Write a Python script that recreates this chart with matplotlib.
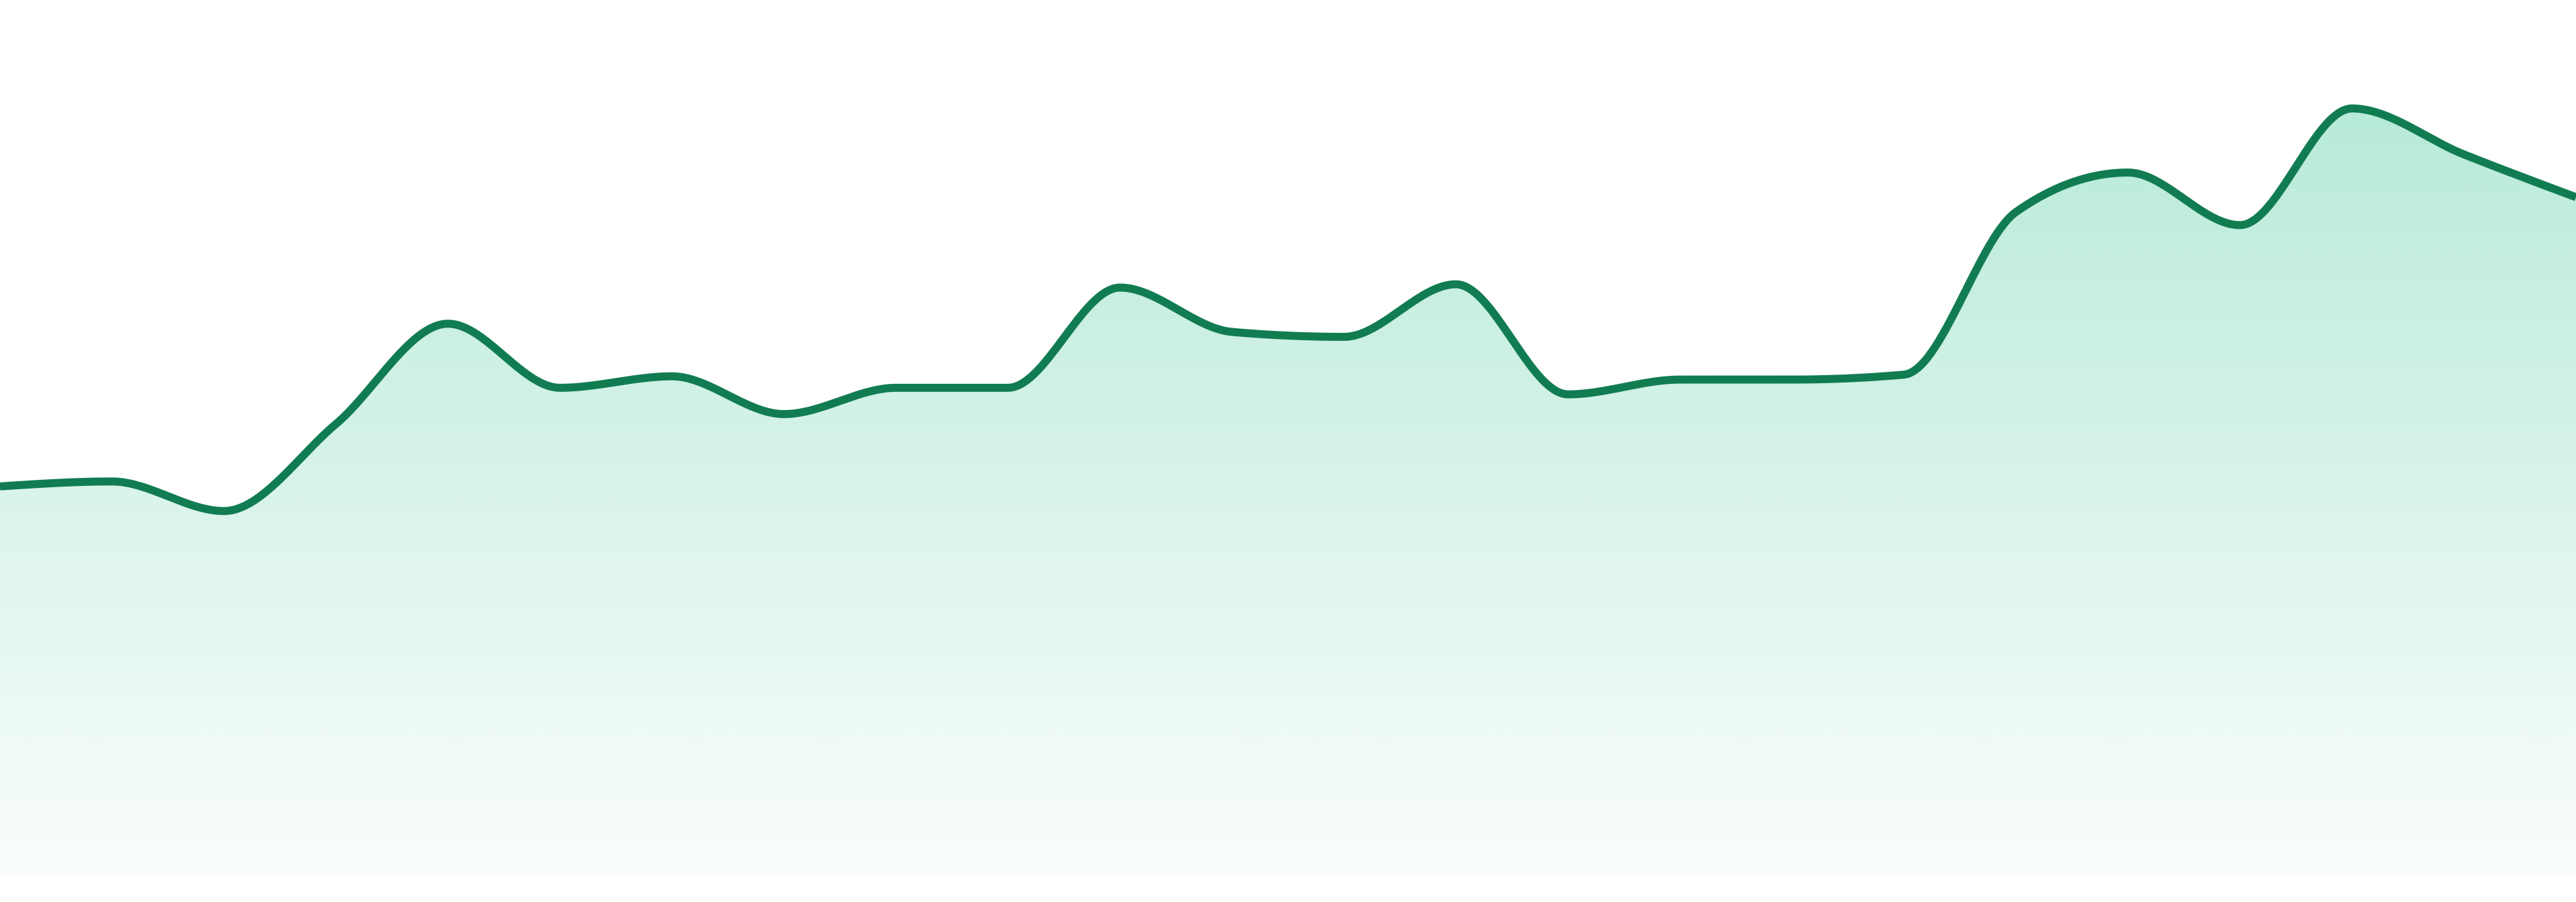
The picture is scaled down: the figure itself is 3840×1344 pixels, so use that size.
import numpy as np
import matplotlib
matplotlib.use("Agg")
import matplotlib.pyplot as plt
from matplotlib.patches import PathPatch
from matplotlib.path import Path

# Data (arbitrary units)
idx = list(range(24))
values = [237, 240, 222, 275, 336, 297, 304, 281, 297, 297, 358, 331,
          328, 360, 293, 302, 302, 305, 404, 428, 396, 467, 439, 413]

LINE_COLOR = "#117c52"
FILL_RGB = (16 / 255, 185 / 255, 129 / 255)


def monotone_x(x, y, n=40):
    x = np.asarray(x, float)
    y = np.asarray(y, float)
    h = np.diff(x)
    s = np.diff(y) / h
    t = np.zeros_like(y)
    for i in range(1, len(y) - 1):
        h0, h1 = h[i - 1], h[i]
        s0, s1 = s[i - 1], s[i]
        p = (s0 * h1 + s1 * h0) / (h0 + h1)
        t[i] = (np.sign(s0) + np.sign(s1)) * min(abs(s0), abs(s1), 0.5 * abs(p))
    t[0] = (3 * s[0] - t[1]) / 2
    t[-1] = (3 * s[-1] - t[-2]) / 2
    xs, ys = [], []
    for i in range(len(y) - 1):
        u = np.linspace(0, 1, n, endpoint=(i == len(y) - 2))
        h00 = 2 * u**3 - 3 * u**2 + 1
        h10 = u**3 - 2 * u**2 + u
        h01 = -2 * u**3 + 3 * u**2
        h11 = u**3 - u**2
        xs.append(x[i] + u * h[i])
        ys.append(h00 * y[i] + h10 * h[i] * t[i] + h01 * y[i + 1] + h11 * h[i] * t[i + 1])
    return np.concatenate(xs), np.concatenate(ys)


fig = plt.figure(figsize=(38.4, 13.44), dpi=100)
ax = fig.add_axes([0, 1 - 1305 / 1344, 1, 1305 / 1344])
ax.set_xlim(idx[0], idx[-1])
ax.set_ylim(0, 533)
ax.axis("off")

xs, ys = monotone_x(idx, values)

# gradient fill
ymax = max(values)
ny = 600
grad = np.zeros((ny, 2, 4))
yy = np.linspace(0, 533, ny)
alpha = np.clip(0.02 + (0.30 - 0.02) * yy / ymax, 0, 0.30)
grad[..., 0] = FILL_RGB[0]
grad[..., 1] = FILL_RGB[1]
grad[..., 2] = FILL_RGB[2]
grad[..., 3] = alpha[:, None]
im = ax.imshow(grad, extent=[idx[0], idx[-1], 0, 533], origin="lower",
               aspect="auto", interpolation="bilinear", zorder=1)
verts = np.vstack([np.column_stack([xs, ys]),
                   [[xs[-1], 0], [xs[0], 0], [xs[0], ys[0]]]])
codes = [Path.MOVETO] + [Path.LINETO] * (len(verts) - 2) + [Path.CLOSEPOLY]
patch = PathPatch(Path(verts, codes), facecolor="none", edgecolor="none")
ax.add_patch(patch)
im.set_clip_path(patch)

ax.plot(xs, ys, color=LINE_COLOR, lw=8.6, solid_capstyle="butt", zorder=3)

fig.savefig("out.png", dpi=100, facecolor="white")
